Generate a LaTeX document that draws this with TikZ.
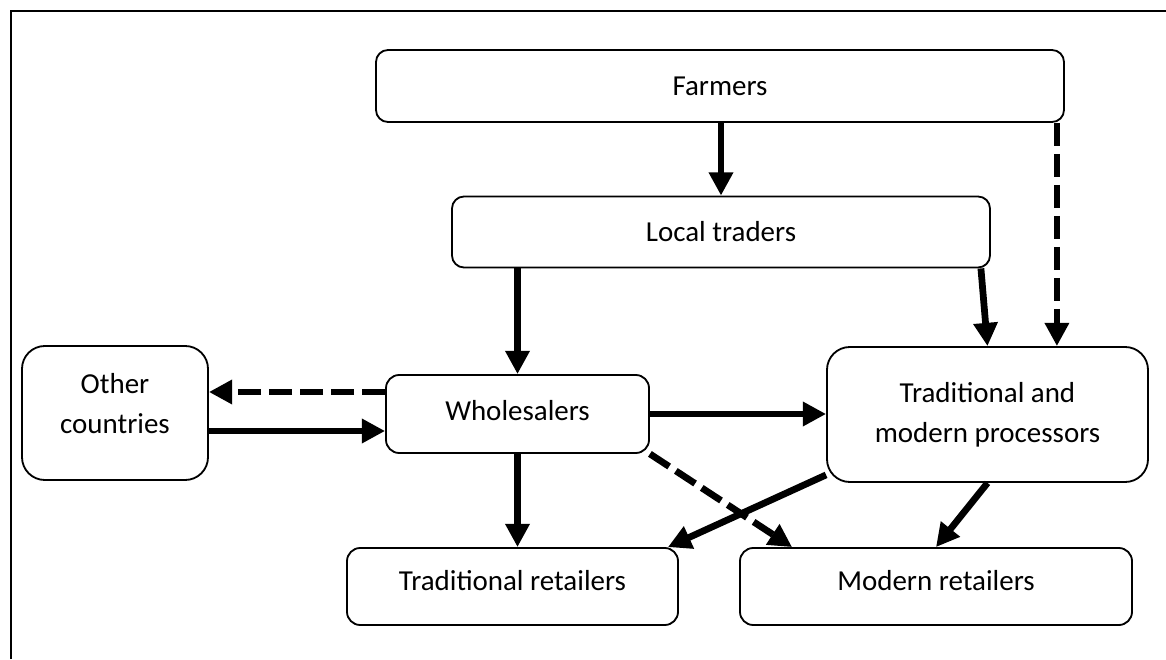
\documentclass[tikz,border=0pt]{standalone}
\usepackage{fontspec}
\setmainfont{Carlito}
\usetikzlibrary{arrows.meta}
\begin{document}
\begin{tikzpicture}[
    chainbox/.style={draw,line width=1.3pt,rounded corners=0.3cm,align=center,inner sep=0pt,
      font=\fontsize{20.6}{28.5}\selectfont},
    flow/.style={line width=4.8pt,-{Triangle[length=0.58cm,width=0.58cm]}},
    dashflow/.style={flow,dash pattern=on 0.575cm off 0.2cm}]
                \useasboundingbox (0,0) rectangle (29.15,16.475);
                \draw[line width=1.8pt] (0.275,0) -- (0.275,16.2) -- (29.15,16.2);
                \node[chainbox,minimum width=17.2cm,minimum height=1.8cm] (F) at (18.0,14.325) {Farmers};
                \node[chainbox,minimum width=13.45cm,minimum height=1.775cm] (LT) at (18.025,10.675) {Local traders};
                \node[chainbox,rounded corners=0.57cm,minimum width=4.65cm,minimum height=3.35cm,text depth=0.5cm] (OC) at (2.875,6.15) {Other\\countries};
                \node[chainbox,rounded corners=0.33cm,minimum width=6.575cm,minimum height=1.95cm,text depth=0.2cm] (W) at (12.9375,6.125) {Wholesalers};
                \node[chainbox,rounded corners=0.57cm,minimum width=8.025cm,minimum height=3.375cm] (P) at (24.6875,6.1125) {Traditional and\\modern processors};
                \node[chainbox,rounded corners=0.33cm,minimum width=8.275cm,minimum height=1.925cm,text depth=0.3cm] (TR) at (12.8125,1.8125) {Traditional retailers};
                \node[chainbox,rounded corners=0.33cm,minimum width=9.8cm,minimum height=1.925cm,text depth=0.3cm] (MR) at (23.4,1.8125) {Modern retailers};
                \draw[flow] (LT.north |- F.south) -- (LT.north);
                \draw[dashflow] ([xshift=-0.2cm]F.south east) -- ([xshift=-0.2cm]F.south east |- P.north);
                \draw[flow] ([xshift=-0.25cm]LT.south east) -- (P.north);
                \draw[flow] (W.north |- LT.south) -- (W.north);
                \draw[dashflow] ([yshift=0.55cm]W.west) -- ([yshift=0.55cm]W.west -| OC.east);
                \draw[flow] ([yshift=-0.425cm]W.west -| OC.east) -- ([yshift=-0.425cm]W.west);
                \draw[flow] (W.east) -- (W.east -| P.west);
                \draw[flow] (W.south) -- (W.south |- TR.north);
                \draw[dashflow] (W.south east) -- ([xshift=1.325cm]MR.north west);
                \draw[flow] ([yshift=0.2cm]P.south west) -- ([xshift=-0.275cm]TR.north east);
                \draw[flow] (P.south) -- (MR.north);
            \end{tikzpicture}
\end{document}
